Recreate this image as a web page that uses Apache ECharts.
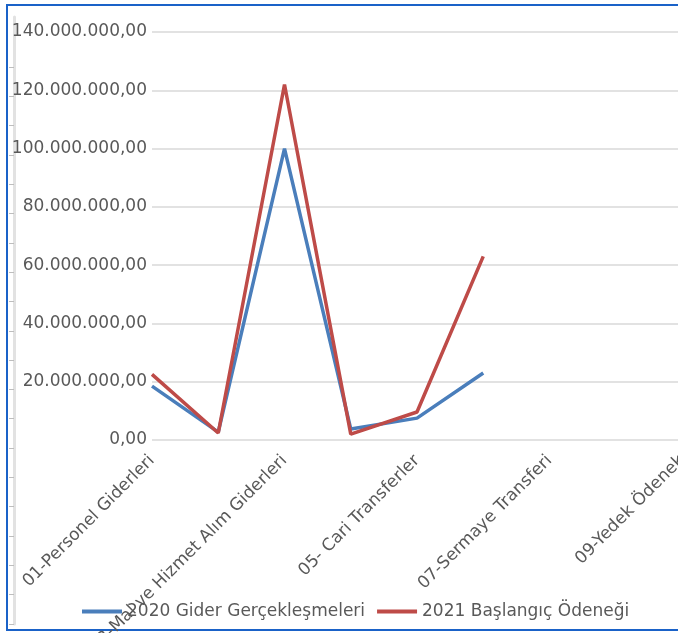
<!DOCTYPE html>
<html>
<head>
<meta charset="utf-8">
<script src="https://cdn.jsdelivr.net/npm/echarts@6/dist/echarts.min.js"></script>
<style>
html, body { margin: 0; padding: 0; background: #fff; }
#chart { width: 678px; height: 633px; }
</style>
</head>
<body>
<div id="chart"></div>
<script>
const categories = [
    '01-Personel Giderleri',
    '02-Sos. Güv. Kur. Devlet Primi Giderleri',
    '03-Mal ve Hizmet Alım Giderleri',
    '04-Faiz Giderleri',
    '05- Cari Transferler',
    '06-Sermaye Giderleri',
    '07-Sermaye Transferi',
    '08-Borç Verme',
    '09-Yedek Ödenek'
]
const seriesNames = ['2020 Gider Gerçekleşmeleri', '2021 Başlangıç Ödeneği']
const gider2020 = [18500000, 2700000, 100000000, 3800000, 7500000, 23000000, null, null, null]
const odenek2021 = [22500000, 2400000, 122000000, 2000000, 9600000, 63000000, null, null, null]
const yTicks = [0, 20000000, 40000000, 60000000, 80000000, 100000000, 120000000, 140000000]

// 140000000 -> 140.000.000,00
function trFormat(v){
    let parts = v.toFixed(2).split('.')
    let intPart = parts[0].replace(/\B(?=(\d{3})+(?!\d))/g, '.')
    return intPart + ',' + parts[1]
}

const labelColor = '#595959'
const font = 'DejaVu Sans'

const myChart = echarts.init(document.getElementById('chart'))
const option = {
    animation: false,
    color: ['#4a7ebb', '#be4b48'],
    textStyle: { fontFamily: font },
    legend: {
        left: 77,
        top: 598,
        icon: 'rect',
        itemWidth: 40,
        itemHeight: 4,
        itemGap: 12,
        textStyle: { color: labelColor, fontSize: 17, fontFamily: font },
        data: seriesNames
    },
    grid: [
        { left: 152, right: -4, top: 32, bottom: 193, outerBoundsMode: 'none' },
        { left: 14, width: 1, top: 17, bottom: 9, outerBoundsMode: 'none' }
    ],
    xAxis: [
        {
            type: 'category',
            gridIndex: 0,
            boundaryGap: false,
            data: categories,
            axisLine: { show: false },
            axisTick: { show: false },
            axisLabel: {
                interval: 1,
                rotate: 45,
                color: labelColor,
                fontSize: 17,
                fontFamily: font,
                margin: 18
            }
        },
        { type: 'value', gridIndex: 1, show: false }
    ],
    yAxis: [
        {
            type: 'value',
            gridIndex: 0,
            min: yTicks[0],
            max: yTicks[yTicks.length - 1],
            interval: 20000000,
            axisLine: { show: false },
            axisTick: { show: false },
            splitLine: { lineStyle: { color: '#d9d9d9', width: 1.5 } },
            axisLabel: {
                color: labelColor,
                fontSize: 17,
                fontFamily: font,
                margin: 5,
                formatter: v => trFormat(v)
            }
        },
        {
            // kenardaki gri cetvel
            type: 'value',
            gridIndex: 1,
            min: 0,
            max: 20.7,
            axisLine: { show: true, lineStyle: { color: '#e2e2e2', width: 3 } },
            axisTick: {
                show: true,
                length: 5,
                customValues: [0,1,2,3,4,5,6,7,8,9,10,11,12,13,14,15,16,17,18,19],
                lineStyle: { color: '#bdbdbd', width: 1 }
            },
            axisLabel: { show: false },
            splitLine: { show: false }
        }
    ],
    graphic: [
        { type: 'line', shape: { x1: 7, y1: 5, x2: 678, y2: 5 }, style: { stroke: '#1a62c8', lineWidth: 2 } },
        { type: 'line', shape: { x1: 7, y1: 4, x2: 7, y2: 631 }, style: { stroke: '#1a62c8', lineWidth: 2 } },
        { type: 'line', shape: { x1: 7, y1: 630, x2: 678, y2: 630 }, style: { stroke: '#1a62c8', lineWidth: 2 } }
    ],
    series: [
        {
            name: seriesNames[0],
            type: 'line',
            showSymbol: false,
            symbol: 'none',
            lineStyle: { width: 3.5 },
            data: gider2020
        },
        {
            name: seriesNames[1],
            type: 'line',
            showSymbol: false,
            symbol: 'none',
            lineStyle: { width: 3.5 },
            data: odenek2021
        }
    ]
}
myChart.setOption(option)
</script>
</body>
</html>
